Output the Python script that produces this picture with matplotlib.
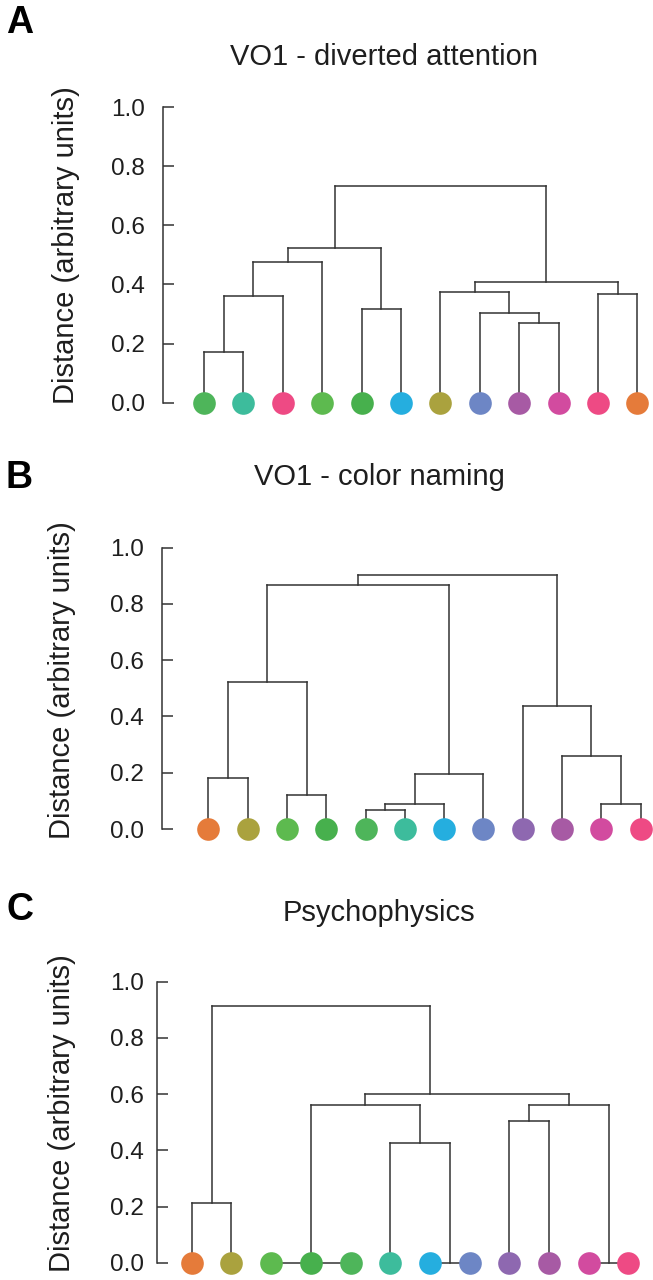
import matplotlib
matplotlib.use("Agg")
import matplotlib.pyplot as plt

plt.rcParams["font.family"] = ["Liberation Sans", "DejaVu Sans"]

# leaf colours
ORANGE = "#e57b3a"
OLIVE = "#aaa23e"
LGREEN = "#5dba4f"
GREEN = "#47b04d"
MGREEN = "#4eb55a"
TEAL = "#3dbc9c"
CYAN = "#25aedf"
BLUE = "#6d86c5"
PURPLE = "#8e68b0"
VIOLET = "#a75aa4"
MAGENTA = "#d24b9f"
PINK = "#ee4a84"

# Panel A: VO1 - diverted attention
a_colors = [MGREEN, TEAL, PINK, LGREEN, GREEN, CYAN, OLIVE, BLUE, VIOLET, MAGENTA, PINK, ORANGE]
# merges: (children, height); leaves are 0..11, merge k makes node 12+k
a_merges = [
    ((0, 1), 0.172),
    ((12, 2), 0.360),
    ((13, 3), 0.475),
    ((4, 5), 0.316),
    ((14, 15), 0.522),
    ((8, 9), 0.271),
    ((7, 17), 0.304),
    ((6, 18), 0.373),
    ((10, 11), 0.367),
    ((19, 20), 0.409),
    ((16, 21), 0.734),
]

# Panel B: VO1 - color naming
b_colors = [ORANGE, OLIVE, LGREEN, GREEN, MGREEN, TEAL, CYAN, BLUE, PURPLE, VIOLET, MAGENTA, PINK]
b_merges = [
    ((0, 1), 0.180),
    ((2, 3), 0.122),
    ((12, 13), 0.524),
    ((4, 5), 0.068),
    ((15, 6), 0.089),
    ((16, 7), 0.195),
    ((14, 17), 0.866),
    ((10, 11), 0.089),
    ((9, 19), 0.259),
    ((8, 20), 0.438),
    ((18, 21), 0.903),
]

# Panel C: Psychophysics
c_colors = [ORANGE, OLIVE, LGREEN, GREEN, MGREEN, TEAL, CYAN, BLUE, PURPLE, VIOLET, MAGENTA, PINK]
c_merges = [
    ((0, 1), 0.211),
    ((2, 3, 4), 0.0),
    ((6, 7), 0.0),
    ((5, 14), 0.425),
    ((13, 15), 0.560),
    ((8, 9), 0.505),
    ((10, 11), 0.0),
    ((17, 18), 0.560),
    ((16, 19), 0.599),
    ((12, 20), 0.913),
]
# node drawn above leaf 7 in the original figure
c_node_x = {20: 6}

yticks = [0.0, 0.2, 0.4, 0.6, 0.8, 1.0]

W, H = 653, 1280
fig = plt.figure(figsize=(W / 100, H / 100), dpi=100)
LINE = "#333333"
TEXT = "#1e1e1e"


def px(x, y):
    return x / W, 1 - y / H


def add_panel(y0, y1, spine_x, leaf0_x, step, pad):
    unit = y0 - y1
    lo, hi = -0.07, 1.02
    bottom = y0 - lo * unit
    top = y1 - (hi - 1) * unit
    ax = fig.add_axes([spine_x / W, 1 - bottom / H, (W - spine_x) / W, (bottom - top) / H])
    ax.set_ylim(lo, hi)
    ax.set_xlim(-(leaf0_x - spine_x) / step, (W - leaf0_x) / step)
    for s in ["top", "right", "bottom"]:
        ax.spines[s].set_visible(False)
    ax.spines["left"].set_bounds(0, 1)
    ax.spines["left"].set_color(LINE)
    ax.spines["left"].set_linewidth(1.1)
    ax.set_xticks([])
    ax.set_yticks(yticks)
    ax.set_yticklabels([f"{t:.1f}" for t in yticks])
    ax.tick_params(axis="y", direction="in", length=8, width=1.1, color=LINE,
                   labelsize=17.5, pad=pad, labelcolor=TEXT)
    ax.patch.set_alpha(0)
    return ax


def draw_tree(ax, merges, colors, node_x=None):
    node_x = node_x or {}
    n = len(colors)
    xs = {i: float(i) for i in range(n)}
    hs = {i: 0.0 for i in range(n)}
    for k, (kids, h) in enumerate(merges):
        node = n + k
        kx = [xs[c] for c in kids]
        for c in kids:
            ax.plot([xs[c], xs[c]], [hs[c], h], color=LINE, lw=1.1, zorder=1,
                    solid_capstyle="projecting")
        ax.plot([min(kx), max(kx)], [h, h], color=LINE, lw=1.1, zorder=1,
                solid_capstyle="projecting")
        xs[node] = node_x.get(node, sum(kx) / len(kx))
        hs[node] = h
    for i, col in enumerate(colors):
        ax.plot(i, 0, "o", ms=16.3, color=col, mec="none", zorder=3, clip_on=False)


panels = [
    ("A", "VO1 - diverted attention", a_merges, a_colors, {},
     (402.7, 107.0, 162.5, 204.0, 39.4, 12.5), 23, 57, 384, 245, 66),
    ("B", "VO1 - color naming", b_merges, b_colors, {},
     (829.0, 547.7, 162.0, 208.3, 39.3, 13.0), 478, 477, 379, 680, 62),
    ("C", "Psychophysics", c_merges, c_colors, c_node_x,
     (1262.7, 981.7, 157.3, 191.7, 39.7, 9.5), 910, 913, 379, 1113, 62),
]

for letter, title, merges, colors, nx, geom, ly, ty, tx, yly, ylx in panels:
    ax = add_panel(*geom)
    draw_tree(ax, merges, colors, nx)
    fig.text(*px(6, ly), letter, fontsize=27, fontweight="bold", ha="left", va="center")
    fig.text(*px(tx, ty), title, fontsize=21, ha="center", va="center", color=TEXT)
    fig.text(*px(ylx, yly), "Distance (arbitrary units)", fontsize=21, rotation=90,
             ha="center", va="center", color=TEXT)

fig.savefig("out.png", dpi=100)
